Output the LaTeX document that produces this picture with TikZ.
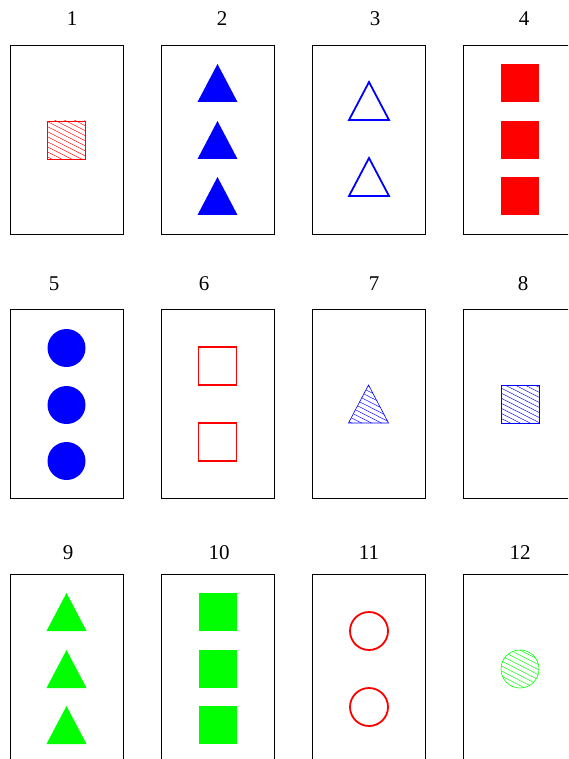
\documentclass[tikz,border=0pt]{standalone}
\usepackage{fontspec}
\setmainfont{Liberation Serif}
\usetikzlibrary{patterns.meta}
\definecolor{pred}{RGB}{255,0,0}
\definecolor{pblue}{RGB}{0,0,255}
\definecolor{pgreen}{RGB}{0,255,0}
\newcommand{\mytri}[3]{\path[#3] (#1,#2) -- ++(20,38) -- ++(-40,0) -- cycle;}
\newcommand{\mysq}[3]{\path[#3] (#1-19,#2) rectangle ++(38,38);}
\newcommand{\mycirc}[3]{\path[#3] (#1,#2) circle[radius=19];}
\begin{document}
\begin{tikzpicture}[x=1pt,y=-1pt,
  card/.style={draw=black,line width=0.9pt,minimum width=113pt,minimum height=189pt,inner sep=0pt,anchor=north west},
  lbl/.style={font=\fontsize{21}{24}\selectfont,inner sep=0pt},
  fillb/.style={fill=pblue},
  fillr/.style={fill=pred},
  fillg/.style={fill=pgreen},
  outb/.style={draw=pblue,line width=1.8pt},
  outr/.style={draw=pred,line width=1.8pt},
  hatch/.style={pattern={Lines[angle=-27,distance=4.5pt,line width=0.45pt]},pattern color=#1,postaction={draw=#1,line width=0.6pt}}]
\useasboundingbox (0,0) rectangle (568,759);
\clip (0,0) rectangle (568,759);
% cards
\node[card] (c1) at (10,45) {};
\node[card] (c2) at (161,45) {};
\node[card] (c3) at (312,45) {};
\node[card] (c4) at (463,45) {};
\node[card] (c5) at (10,309) {};
\node[card] (c6) at (161,309) {};
\node[card] (c7) at (312,309) {};
\node[card] (c8) at (463,309) {};
\node[card] (c9) at (10,574) {};
\node[card] (c10) at (161,574) {};
\node[card] (c11) at (312,574) {};
\node[card] (c12) at (463,574) {};
% labels
\node[lbl] (l1) at (72,19) {1};
\node[lbl] (l2) at (222,19) {2};
\node[lbl] (l3) at (375,19) {3};
\node[lbl] (l4) at (524,19) {4};
\node[lbl] (l5) at (54,284) {5};
\node[lbl] (l6) at (204,284) {6};
\node[lbl] (l7) at (374,284) {7};
\node[lbl] (l8) at (523,284) {8};
\node[lbl] (l9) at (68,553) {9};
\node[lbl] (l10) at (219,553) {10};
\node[lbl] (l11) at (369,553) {11};
\node[lbl] (l12) at (520,553) {12};
% card 1
\mysq{66}{121}{hatch=pred}
% card 2
\mytri{217.5}{64}{fillb}
\mytri{217.5}{121}{fillb}
\mytri{217.5}{177}{fillb}
% card 3
\mytri{369}{82}{outb}
\mytri{369}{158}{outb}
% card 4
\mysq{519.5}{64}{fillr}
\mysq{519.5}{121}{fillr}
\mysq{519.5}{177}{fillr}
% card 5
\mycirc{66.5}{348}{fillb}
\mycirc{66.5}{405}{fillb}
\mycirc{66.5}{461}{fillb}
% card 6
\mysq{217.5}{347}{outr}
\mysq{217.5}{423}{outr}
% card 7
\mytri{368.5}{385}{hatch=pblue}
% card 8
\mysq{520}{385}{hatch=pblue}
% card 9
\mytri{66.5}{593}{fillg}
\mytri{66.5}{650}{fillg}
\mytri{66.5}{706}{fillg}
% card 10
\mysq{217.5}{593}{fillg}
\mysq{217.5}{650}{fillg}
\mysq{217.5}{706}{fillg}
% card 11
\mycirc{369}{631}{outr}
\mycirc{369}{707}{outr}
% card 12
\mycirc{520}{669}{hatch=pgreen}
\end{tikzpicture}
\end{document}
